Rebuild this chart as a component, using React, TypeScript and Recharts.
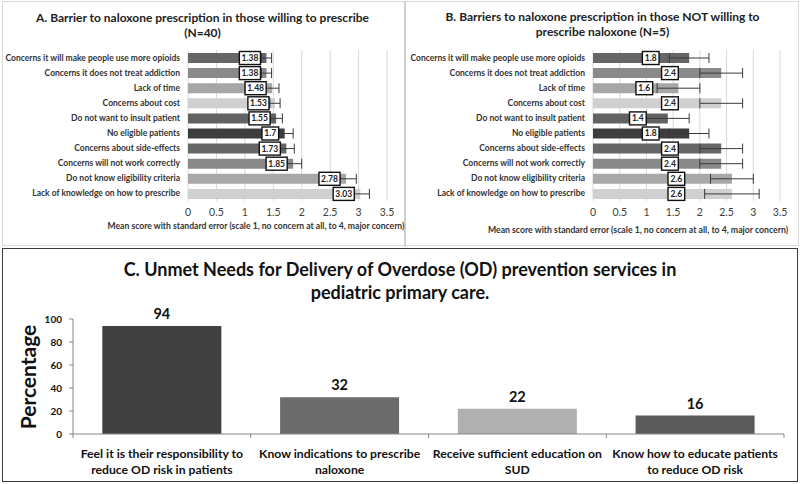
import React from 'react';
import { BarChart, Bar, XAxis, YAxis, CartesianGrid, ErrorBar, LabelList, Cell } from 'recharts';

// barriers, listed top to bottom as in the figure
const barriers = [
  'Concerns it will make people use more opioids',
  'Concerns it does not treat addiction',
  'Lack of time',
  'Concerns about cost',
  'Do not want to insult patient',
  'No eligible patients',
  'Concerns about side-effects',
  'Concerns will not work correctly',
  'Do not know eligibility criteria',
  'Lack of knowledge on how to prescribe',
];

const willingMeans = [1.38, 1.38, 1.48, 1.53, 1.55, 1.7, 1.73, 1.85, 2.78, 3.03];
const willingErrors = [0.09, 0.09, 0.12, 0.09, 0.11, 0.15, 0.14, 0.15, 0.18, 0.16];

const unwillingMeans = [1.8, 2.4, 1.6, 2.4, 1.4, 1.8, 2.4, 2.4, 2.6, 2.6];
const unwillingErrors = [0.37, 0.4, 0.4, 0.4, 0.4, 0.37, 0.4, 0.4, 0.4, 0.51];

const scoreTicks = [0, 0.5, 1, 1.5, 2, 2.5, 3, 3.5];

const barrierShades = [
  '#666666', '#8a8a8a', '#a6a6a6', '#d0d0d0', '#626262',
  '#3d3d3d', '#666666', '#8a8a8a', '#a8a8a8', '#d0d0d0',
];

// panel C
const needLabels = [
  ['Feel it is their responsibility to', 'reduce OD risk in patients'],
  ['Know indications to prescribe', 'naloxone'],
  ['Receive sufficient education on', 'SUD'],
  ['Know how to educate patients', 'to reduce OD risk'],
];
const needPercents = [94, 32, 22, 16];
const percentTicks = [0, 20, 40, 60, 80, 100];
const needShades = ['#404040', '#6b6b6b', '#b0b0b0', '#5a5a5a'];

const FONT = 'Lato, "Open Sans", sans-serif';
const AXIS_COLOR = '#868686';

const ValueBox = (props: any) => {
  const vb = props.viewBox ?? props;
  const { x, y, width, height } = vb;
  const text = String(props.value);
  const w = text.length * 4.4 + 3.5;
  const cx = props.mode === 'end' ? x + width - 6 - w / 2 : x + width * 0.6;
  const cy = y + height / 2;
  return (
    <g>
      <rect x={cx - w / 2} y={cy - 6.5} width={w} height={13} fill="#fff" stroke="#111" strokeWidth={1.4} />
      <text x={cx} y={cy} dy="0.35em" textAnchor="middle" fontSize={8.5} fontWeight="bold" fill="#222" fontFamily={FONT}>
        {text}
      </text>
    </g>
  );
};

const BarrierTick = (props: any) => {
  const { x, y, payload } = props;
  return (
    <text x={x} y={y} dy="0.35em" textAnchor="end" fontSize={8.5} fontWeight="bold" fill="#333" fontFamily={FONT}>
      {payload.value}
    </text>
  );
};

function BarrierPanel({ means, errors, mode, width }: { means: number[]; errors: number[]; mode: string; width: number }) {
  const rows = barriers.map((name, i) => ({ name, mean: means[i], se: errors[i] }));
  return (
    <BarChart
      layout="vertical"
      data={rows}
      width={width}
      height={245}
      margin={{ top: 50, right: width - 188 - (mode === 'end' ? 199 : 187), bottom: 14, left: 0 }}
      barSize={10}
    >
      <CartesianGrid horizontal={false} stroke="#d9d9d9" />
      <XAxis
        type="number"
        domain={[0, 3.5]}
        ticks={scoreTicks}
        interval={0}
        axisLine={false}
        tickLine={false}
        height={30}
        tick={{ fontSize: 10.5, fill: '#404040', fontFamily: FONT }}
      />
      <YAxis
        type="category"
        dataKey="name"
        width={188}
        interval={0}
        axisLine={false}
        tickLine={false}
        tick={<BarrierTick />}
      />
      <Bar dataKey="mean" isAnimationActive={false}>
        {rows.map((r, i) => (
          <Cell key={r.name} fill={barrierShades[i]} />
        ))}
        <ErrorBar dataKey="se" direction="x" width={5} stroke="#3a3a3a" strokeWidth={1} />
        <LabelList dataKey="mean" content={(p: any) => <ValueBox {...p} mode={mode} />} />
      </Bar>
    </BarChart>
  );
}

const NeedTick = (props: any) => {
  const { x, y, payload, index } = props;
  const half = payload.offset ?? 0;
  const lines = needLabels[index] ?? [String(payload.value)];
  return (
    <g>
      <line x1={x - half} x2={x - half} y1={y - 8} y2={y - 4} stroke={AXIS_COLOR} />
      {index === needLabels.length - 1 && (
        <line x1={x + half} x2={x + half} y1={y - 8} y2={y - 4} stroke={AXIS_COLOR} />
      )}
      {lines.map((l: string, k: number) => (
        <text key={k} x={x} y={y + 12 + k * 15.5} dy="0.35em" textAnchor="middle" fontSize={12.2} fontWeight="bold" fill="#111" fontFamily={FONT}>
          {l}
        </text>
      ))}
    </g>
  );
};

function NeedsPanel() {
  const rows = needLabels.map((lines, i) => ({ name: lines.join(' '), pct: needPercents[i] }));
  return (
    <BarChart data={rows} width={796} height={234} margin={{ top: 71, right: 14, bottom: 2, left: 0 }} barCategoryGap="16.5%">
      <XAxis
        dataKey="name"
        interval={0}
        height={46}
        tickLine={false}
        tickSize={8}
        tickMargin={0}
        axisLine={{ stroke: AXIS_COLOR }}
        tick={<NeedTick />}
      />
      <YAxis
        type="number"
        domain={[0, 100]}
        ticks={percentTicks}
        interval={0}
        width={71}
        tickSize={4}
        tickMargin={7}
        axisLine={{ stroke: AXIS_COLOR }}
        tickLine={{ stroke: AXIS_COLOR }}
        tick={{ fontSize: 10, fontWeight: 'bold', fill: '#111', fontFamily: FONT }}
      />
      <Bar dataKey="pct" isAnimationActive={false}>
        {rows.map((r, i) => (
          <Cell key={r.name} fill={needShades[i]} />
        ))}
        <LabelList dataKey="pct" position="top" offset={7} fontSize={14.5} fontWeight="bold" fill="#111" fontFamily={FONT} />
      </Bar>
    </BarChart>
  );
}

const titleStyle: React.CSSProperties = {
  position: 'absolute',
  textAlign: 'center',
  fontWeight: 'bold',
  color: '#222',
  whiteSpace: 'nowrap',
};

export default function App() {
  return (
    <div style={{ position: 'absolute', left: 0, top: 0, width: 800, height: 484, background: '#fff', fontFamily: FONT, overflow: 'hidden' }}>
      {/* frames */}
      <div style={{ position: 'absolute', left: 2, top: 1, width: 797, height: 245, border: '1px solid #d9d9d9', boxSizing: 'border-box' }} />
      <div style={{ position: 'absolute', left: 404, top: 1, width: 2, height: 246, background: '#d0d0d0' }} />
      <div style={{ position: 'absolute', left: 2, top: 248, width: 796, height: 234, border: '1.5px solid #3a3a3a', boxSizing: 'border-box' }} />

      {/* panel A */}
      <div style={{ ...titleStyle, left: 0, top: 10, width: 405, fontSize: 12, lineHeight: '15px' }}>
        A. Barrier to naloxone prescription in those willing to prescribe
        <br />
        (N=40)
      </div>
      <div style={{ position: 'absolute', left: 0, top: 0 }}>
        <BarrierPanel means={willingMeans} errors={willingErrors} mode="end" width={405} />
      </div>
      <div style={{ ...titleStyle, left: 56, top: 221, width: 400, fontSize: 8.6, color: '#333' }}>
        Mean score with standard error (scale 1, no concern at all, to 4, major concern)
      </div>

      {/* panel B */}
      <div style={{ ...titleStyle, left: 405, top: 9, width: 395, fontSize: 12, lineHeight: '15px' }}>
        B. Barriers to naloxone prescription in those NOT willing to
        <br />
        prescribe naloxone (N=5)
      </div>
      <div style={{ position: 'absolute', left: 405, top: 0 }}>
        <BarrierPanel means={unwillingMeans} errors={unwillingErrors} mode="mid" width={395} />
      </div>
      <div style={{ ...titleStyle, left: 438, top: 224, width: 400, fontSize: 8.7, color: '#333' }}>
        Mean score with standard error (scale 1, no concern at all, to 4, major concern)
      </div>

      {/* panel C */}
      <div style={{ ...titleStyle, left: 0, top: 258, width: 800, fontSize: 18, lineHeight: '23px', color: '#111' }}>
        C. Unmet Needs for Delivery of Overdose (OD) prevention services in
        <br />
        pediatric primary care.
      </div>
      <div style={{ position: 'absolute', left: 2, top: 248 }}>
        <NeedsPanel />
      </div>
      <div
        style={{
          position: 'absolute',
          left: 28 - 60,
          top: 377 - 14,
          width: 120,
          height: 28,
          lineHeight: '28px',
          textAlign: 'center',
          fontSize: 21,
          fontWeight: 'bold',
          color: '#111',
          transform: 'rotate(-90deg)',
        }}
      >
        Percentage
      </div>
    </div>
  );
}
